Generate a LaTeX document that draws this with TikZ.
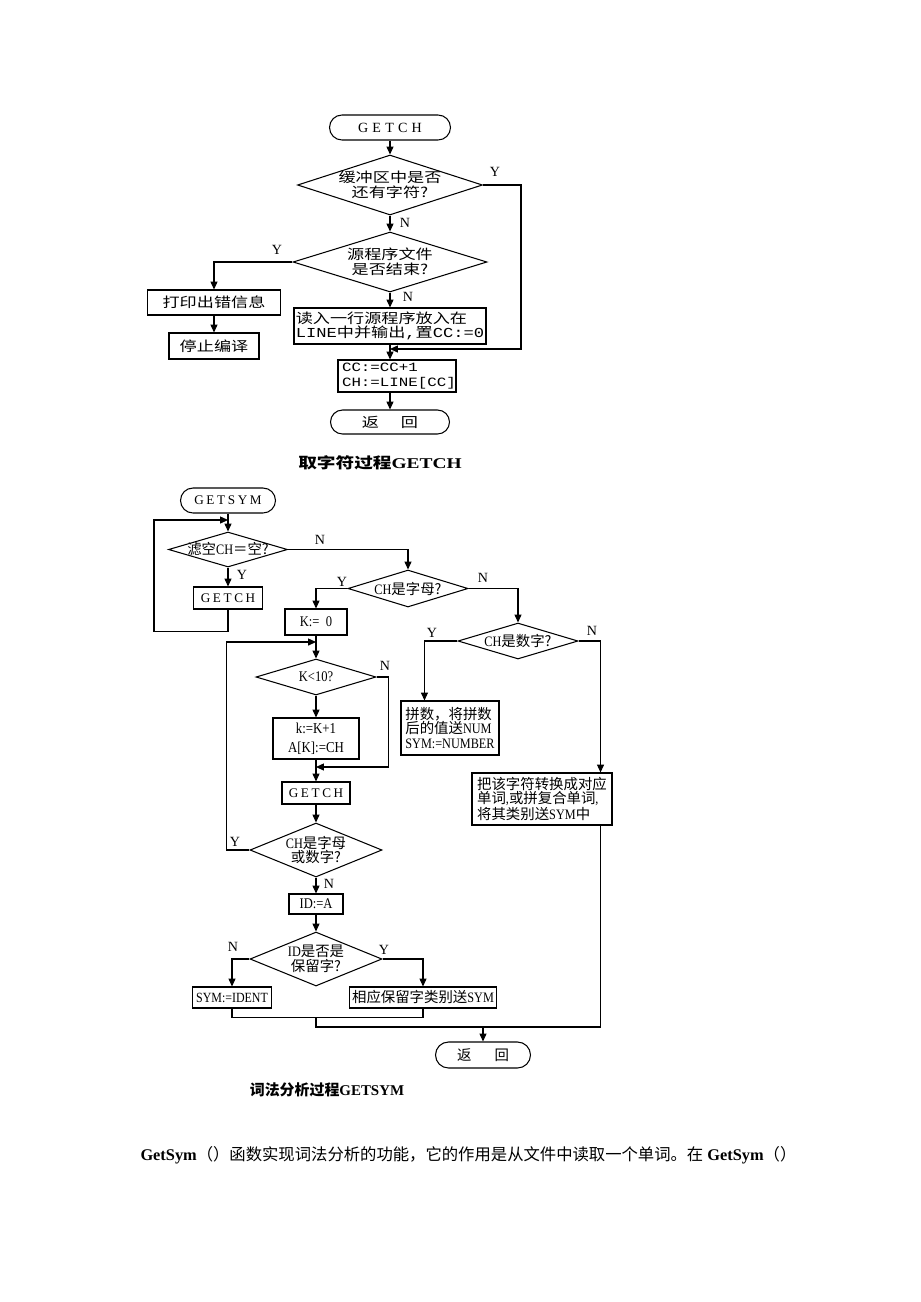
\documentclass[tikz,border=0pt]{standalone}
\usepackage{fontspec}
\setmainfont{Liberation Serif}
\newfontfamily\cjk{Noto Sans CJK SC}
\newfontfamily\cjkw[FakeStretch=1.25]{Noto Sans CJK SC}
\newfontfamily\monow[FakeStretch=1.25]{Liberation Mono}
\newfontfamily\lat[FakeStretch=0.85]{Liberation Serif}
\newfontfamily\latw[FakeStretch=1.3]{Liberation Serif}
\newfontfamily\spaced[LetterSpace=30]{Liberation Serif}
\newfontfamily\spacedn[LetterSpace=20]{Liberation Serif}
\usetikzlibrary{positioning, arrows.meta, shapes.geometric}

\begin{document}
\begin{tikzpicture}[x=0.02cm, y=-0.02cm, line width=0.6pt,
  box/.style={rectangle, draw, inner sep=1pt},
  term/.style={rectangle, draw, rounded corners=0.25cm, minimum height=0.5cm, inner sep=0pt},
  decision/.style={diamond, draw, inner sep=0pt},
  arrow/.style={-{Triangle[length=4.5pt, width=4pt]}},
  yn/.style={font=\fontsize{8}{8}\selectfont, inner sep=0pt},
  upper/.style={font=\cjkw\fontsize{7.8}{8.4}\selectfont},
  lower/.style={font=\cjk\fontsize{8.2}{8.4}\selectfont},
  latin/.style={font=\lat\fontsize{8.4}{9}\selectfont},
  captext/.style={font=\fontsize{8.5}{9}\selectfont}
]
\useasboundingbox (0,0) rectangle (920,1302);

\node[term, minimum width=2.42cm, font=\spaced\fontsize{8}{8}\selectfont] (start1) at (390,127.5) {GETCH};
\node[decision, minimum width=3.7cm, minimum height=1.2cm,
  label={[upper, align=center]center:{缓冲区中是否\\还有字符?}}] (buf) at (390,185) {};
\node[decision, minimum width=3.88cm, minimum height=1.2cm,
  label={[upper, align=center]center:{源程序文件\\是否结束?}}] (eof) at (390,262) {};
\node[box, upper, minimum width=2.66cm, minimum height=0.5cm] (err) at (214,302.5) {打印出错信息};
\node[box, upper, minimum width=1.8cm, minimum height=0.52cm] (stop) at (214,346) {停止编译};
\node[box, upper, align=left, minimum width=3.76cm, minimum height=0.72cm] (read) at (390,326)
  {读入一行源程序放入在\\{\monow LINE}中并输出{\monow ,}置{\monow CC:=0}};
\node[box, align=left, font=\monow\fontsize{7.2}{8.2}\selectfont, minimum width=2.36cm, minimum height=0.64cm,
  text width=2.2cm] (cc) at (397,376) {CC:=CC+1\\CH:=LINE[CC]};
\node[term, upper, minimum width=2.38cm, minimum height=0.48cm, rounded corners=0.24cm] (ret1) at (390,422) {返\hspace{1.6em}回};
\coordinate (m1) at (390,349);

\node[yn] (y1) at (495,172) {Y};
\node[yn] (n1) at (405,223) {N};
\node[yn] (y2) at (277,250) {Y};
\node[yn] (n2) at (408,297) {N};

\draw[arrow] (start1) -- (buf);
\draw[arrow] (buf) -- (eof);
\draw[arrow] (buf.east) -- ++(38,0) |- (m1);
\draw[arrow] (eof.west) -| (err.north);
\draw[arrow] (err) -- (stop);
\draw[arrow] (eof) -- (read);
\draw[arrow] (read.south) -- (read.south |- cc.north);
\draw[arrow] (ret1.north |- cc.south) -- (ret1.north);

\node[captext] (cap1) at (380,463) {{\cjkw\bfseries 取字符过程}{\latw\bfseries GETCH}};

\node[term, minimum width=1.9cm, font=\spacedn\fontsize{7.5}{8}\selectfont] (getsym) at (228,500.5) {GETSYM};
\coordinate (lp) at (228,520);
\node[decision, minimum width=2.38cm, minimum height=0.7cm,
  label={[lower]center:{滤空{\lat CH}＝空?}}] (ws) at (228,549.5) {};
\node[box, minimum width=1.38cm, minimum height=0.44cm, font=\spacedn\fontsize{7.5}{8}\selectfont] (gc1) at (228,598) {GETCH};
\node[decision, minimum width=2.4cm, minimum height=0.74cm,
  label={[lower]center:{{\lat CH}是字母?}}] (letter) at (408,588.5) {};
\node[box, latin, minimum width=1.24cm, minimum height=0.52cm] (k0) at (316,622) {K:=\ \ 0};
\node[decision, minimum width=2.4cm, minimum height=0.72cm,
  label={[lower]center:{{\lat CH}是数字?}}] (digit) at (518,641) {};
\node[box, lower, align=left, minimum width=1.96cm, minimum height=1.08cm] (num) at (450,728)
  {拼数，将拼数\\后的值送{\lat NUM}\\{\lat SYM:=NUMBER}};
\node[box, lower, align=left, minimum width=2.8cm, minimum height=1.04cm, font=\cjk\fontsize{8.2}{7.8}\selectfont] (conv) at (542,799)
  {把该字符转换成对应\\单词{\lat ,}或拼复合单词{\lat ,}\\将其类别送{\lat SYM}中};
\coordinate (m3) at (316,642);
\node[decision, minimum width=2.4cm, minimum height=0.72cm,
  label={[latin]center:{K<10?}}] (k10) at (316,677) {};
\node[box, align=center, minimum width=1.72cm, minimum height=0.82cm, font=\lat\fontsize{8.6}{10.8}\selectfont] (kk) at (316,738.5)
  {k:=K+1\\A[K]:=CH};
\coordinate (m4) at (316,767);
\node[box, minimum width=1.36cm, minimum height=0.44cm, font=\spacedn\fontsize{7.5}{8}\selectfont] (gc2) at (316,793) {GETCH};
\node[decision, minimum width=2.64cm, minimum height=1.08cm,
  label={[lower, align=center]center:{{\lat CH}是字母\\或数字?}}] (alnum) at (316,850) {};
\node[box, latin, minimum width=1.08cm, minimum height=0.4cm] (id) at (316,904) {ID:=A};
\node[decision, minimum width=2.64cm, minimum height=1.08cm,
  label={[lower, align=center]center:{{\lat ID}是否是\\保留字?}}] (res) at (316,959) {};
\node[box, latin, inner xsep=2pt, minimum width=1.58cm, minimum height=0.42cm, font=\lat\fontsize{8}{9}\selectfont] (ident) at (232,997.5) {SYM:=IDENT};
\node[box, lower, minimum width=2.94cm, minimum height=0.42cm] (resw) at (423,997.5) {相应保留字类别送{\lat SYM}};
\coordinate (j1) at (316,1017);
\coordinate (jn) at (483,1027);
\node[term, lower, minimum width=1.9cm, minimum height=0.52cm, rounded corners=0.26cm] (ret2) at (483,1055) {返\hspace{1.6em}回};

\node[yn] (n3) at (320,540) {N};
\node[yn] (y3) at (242,575) {Y};
\node[yn] (y4) at (342,582) {Y};
\node[yn] (n4) at (483,578) {N};
\node[yn] (y5) at (432,633) {Y};
\node[yn] (n5) at (592,631) {N};
\node[yn] (n6) at (385,666) {N};
\node[yn] (y6) at (235,842) {Y};
\node[yn] (n7) at (329,884) {N};
\node[yn] (n8) at (233,947) {N};
\node[yn] (y7) at (384,950) {Y};

\draw[arrow] (getsym) -- (ws);
\draw[arrow] (gc1.south) -- ++(0,22) -- ++(-74,0) |- (lp);
\draw[arrow] (ws) -- (gc1);
\draw[arrow] (ws.east) -| (letter.north);
\draw[arrow] (letter.west) -| (k0.north);
\draw[arrow] (letter.east) -| (digit.north);
\draw[arrow] (digit.west) -| ([xshift=0.48cm]num.north west);
\draw[arrow] (digit.east) -| ([xshift=-0.24cm]conv.north east);
\draw[arrow] (k0) -- (k10);
\draw[arrow] (alnum.west) -- ++(-23,0) |- (m3);
\draw[arrow] (k10) -- (kk);
\draw[arrow] (k10.east) -- ++(12,0) |- (m4);
\draw[arrow] (kk) -- (gc2);
\draw[arrow] (gc2) -- (alnum);
\draw[arrow] (alnum) -- (id);
\draw[arrow] (id) -- (res);
\draw[arrow] (res.west) -| (ident.north);
\draw[arrow] (res.east) -| (resw.north);
\draw (ident.south) -- ++(0,9) -| (resw.south);
\draw ([xshift=-0.24cm]conv.south east) |- (jn);
\draw[arrow] (j1) |- (jn) -- (ret2);

\node[captext] (cap2) at (327,1090) {{\cjk\bfseries 词法分析过程}{\bfseries GETSYM}};

\node[anchor=west, inner sep=0pt, font=\fontsize{9.3}{10}\selectfont] (body) at (140,1155)
  {{\bfseries GetSym}{\cjk （）函数实现词法分析的功能，它的作用是从文件中读取一个单词。在} {\bfseries GetSym}{\cjk （）}};
\end{tikzpicture}
\end{document}
